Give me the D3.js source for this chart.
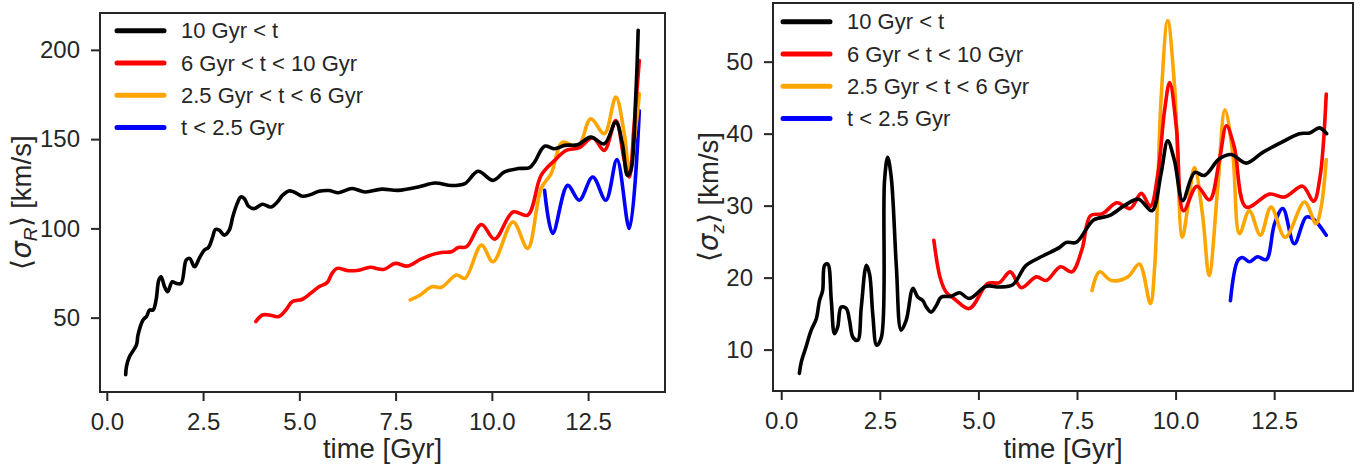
<!DOCTYPE html>
<html>
<head>
<meta charset="utf-8">
<script src="https://cdn.jsdelivr.net/npm/d3@7"></script>
<style>
  body { margin: 0; background: #fff; }
  text { font-family: "Liberation Sans", Arial, sans-serif; fill: #262626; }
</style>
</head>
<body>
<div id="chart"></div>
<script>
// legend / series labels
var seriesLabels = ["10 Gyr < t", "6 Gyr < t < 10 Gyr", "2.5 Gyr < t < 6 Gyr", "t < 2.5 Gyr"];
var seriesColors = ["#000000", "#ff0000", "#ffa500", "#0000ff"];

var xTicks = [0, 2.5, 5, 7.5, 10, 12.5];
var yTicksR = [50, 100, 150, 200];
var yTicksZ = [10, 20, 30, 40, 50];

// <sigma_R> vs time, [time Gyr, km/s]
var sigmaR_old = [[0.49,18],[0.51,22.6],[0.59,28.2],[0.77,34.7],[0.81,40.3],[0.94,48.7],[1.03,50.6],[1.11,54.3],[1.20,54.3],[1.28,59.9],[1.35,71],[1.41,72.9],[1.50,67.3],[1.58,64.5],[1.70,70.1],[1.80,69.2],[1.93,69.2],[2.06,82.2],[2.15,83.2],[2.28,78.5],[2.40,83.2],[2.53,87.8],[2.64,89.3],[2.75,95.3],[2.82,99.4],[2.92,99],[3.05,96.2],[3.18,99],[3.27,106.4],[3.37,113],[3.48,117.6],[3.57,116.7],[3.68,112.4],[3.83,111.1],[4.04,113.5],[4.26,112],[4.43,114.8],[4.56,118.5],[4.73,121],[4.86,120.4],[5.08,118],[5.29,118.9],[5.51,120.8],[5.77,121.2],[6.02,120],[6.37,122.3],[6.71,120.4],[7.14,122],[7.57,121.3],[8.09,123.2],[8.52,125.4],[8.95,124],[9.30,125.1],[9.64,132],[10.03,126.9],[10.33,131.6],[10.68,133.5],[10.98,134],[11.11,137.2],[11.37,146],[11.63,144.6],[11.89,146.5],[12.23,146.9],[12.57,151.1],[12.92,147.4],[13.22,159.5],[13.39,147.4],[13.52,129.7],[13.61,132.5],[13.74,175.4],[13.80,211]];
var sigmaR_mid = [[3.87,47.8],[4.04,51.5],[4.21,51.5],[4.47,50.6],[4.65,54.3],[4.82,59],[5.08,60.3],[5.29,63.6],[5.51,67.3],[5.72,69.6],[5.85,74.8],[5.98,77.6],[6.28,76.3],[6.54,76.6],[6.84,78.2],[7.19,77],[7.49,80.4],[7.81,78.9],[8.14,82.6],[8.45,85.3],[8.69,86.5],[8.95,86.9],[9.13,89.3],[9.34,89.7],[9.73,102.2],[10.07,94],[10.55,109.2],[10.93,107.4],[11.28,129.7],[11.63,138.1],[11.93,143.7],[12.27,145.2],[12.62,150.8],[12.92,143.7],[13.22,160.4],[13.44,138.1],[13.57,128.8],[13.69,156.7],[13.83,194]];
var sigmaR_young = [[7.88,59.9],[8.14,62.7],[8.44,67.3],[8.69,67],[9.08,73.9],[9.30,72],[9.73,90.6],[10.03,81.3],[10.55,103.6],[10.93,88.8],[11.28,122.3],[11.54,130.7],[11.84,148.3],[12.23,145.5],[12.57,161.4],[12.92,153],[13.22,173.5],[13.44,153],[13.57,132.5],[13.74,156.7],[13.83,175.4]];
var sigmaR_new = [[11.37,121.3],[11.58,97.2],[11.97,124.1],[12.27,115.8],[12.62,128.8],[12.96,115.8],[13.25,138.5],[13.57,99.9],[13.83,165.8]];

// <sigma_z> vs time
var sigmaZ_old = [[0.46,6.7],[0.51,8.3],[0.63,10.4],[0.76,12.7],[0.89,14.3],[0.97,16.8],[1.05,18.2],[1.10,21.7],[1.18,21.9],[1.27,16.8],[1.35,12.2],[1.43,13.1],[1.52,15.9],[1.65,15.7],[1.73,14.1],[1.82,11.7],[1.94,11.3],[2.03,15.9],[2.16,21.7],[2.24,20.5],[2.32,15],[2.42,10.6],[2.54,11.7],[2.62,33.5],[2.70,36.7],[2.79,33.9],[2.92,21.5],[3.04,12.7],[3.17,14.1],[3.34,18.5],[3.46,17.3],[3.59,16.8],[3.68,15.9],[3.80,15.2],[3.93,16.1],[4.06,17.3],[4.31,17.4],[4.52,17.9],[4.77,17.1],[5.20,18.8],[5.53,18.7],[5.87,19.0],[6.21,21.7],[6.63,23.0],[7.06,24.2],[7.23,24.9],[7.48,24.9],[7.92,28.0],[8.32,28.6],[8.70,30],[9.06,30.9],[9.40,29.3],[9.63,34.4],[9.80,39],[9.97,36.3],[10.18,30.7],[10.48,34.6],[10.73,34.2],[11.11,36.5],[11.41,37.1],[11.79,35.9],[12.21,37.4],[12.72,38.9],[13.14,40],[13.40,40.1],[13.65,40.8],[13.83,40]];
var sigmaZ_mid = [[3.87,25.2],[4.03,20],[4.18,18],[4.40,17],[4.77,15.7],[5.24,19.2],[5.53,19.3],[5.81,20.8],[6.09,18.6],[6.47,20.1],[6.72,19.6],[7.08,21.5],[7.37,20.8],[7.63,24],[7.84,28.6],[8.15,28.9],[8.51,30.4],[8.85,29.6],[9.13,31.7],[9.36,29.9],[9.55,34.4],[9.72,43.2],[9.85,47.1],[10.02,40.9],[10.20,29.3],[10.54,32.7],[10.86,30.8],[11.11,36.3],[11.29,41.1],[11.49,38.1],[11.79,29.8],[12.38,31.6],[12.76,31.2],[13.22,32.7],[13.50,30.6],[13.66,33.9],[13.82,45.5]];
var sigmaZ_young = [[7.88,18.2],[8.07,20.8],[8.37,19.6],[8.79,20.1],[9.08,21.9],[9.36,16.4],[9.47,21.5],[9.63,44.6],[9.80,55.7],[9.97,46.9],[10.17,25.6],[10.31,29.8],[10.48,35.3],[10.69,28.4],[10.85,20.3],[11.07,32.6],[11.25,43.3],[11.45,37.2],[11.62,26.1],[11.87,29.3],[12.15,25.9],[12.42,29.8],[12.78,25.6],[13.27,30.5],[13.56,27.5],[13.69,29.8],[13.82,36.4]];
var sigmaZ_new = [[11.39,16.8],[11.58,22.4],[11.70,22.8],[11.87,22.2],[12.08,22.9],[12.30,22.5],[12.51,27.5],[12.72,29.6],[13.01,24.7],[13.31,28.4],[13.48,28.2],[13.82,25.9]];

var width = 1371;
var height = 467;

var svg = d3.select("#chart")
    .append("svg")
    .attr("width", width)
    .attr("height", height);

// pad an extent by 5% like matplotlib does
function padded(ext) {
    var m = (ext[1] - ext[0]) * 0.05;
    return [ext[0] - m, ext[1] + m];
}

function drawPanel(p) {
    var all = d3.merge(p.series);
    var x = d3.scaleLinear()
        .domain(padded(d3.extent(all, function (d) { return d[0]; })))
        .range([p.left, p.right]);
    var y = d3.scaleLinear()
        .domain(padded(d3.extent(all, function (d) { return d[1]; })))
        .range([p.bottom, p.top]);

    var g = svg.append("g");

    // x axis
    var xa = g.append("g")
        .attr("transform", "translate(0," + p.bottom + ")")
        .call(d3.axisBottom(x).tickValues(xTicks).tickFormat(d3.format(".1f"))
            .tickSize(9).tickSizeOuter(0).tickPadding(12));
    // y axis
    var ya = g.append("g")
        .attr("transform", "translate(" + p.left + ",0)")
        .call(d3.axisLeft(y).tickValues(p.yTicks).tickFormat(d3.format("d"))
            .tickSize(9).tickSizeOuter(0).tickPadding(11));

    [xa, ya].forEach(function (a) {
        a.select(".domain").remove();
        a.selectAll(".tick line").attr("stroke", "#262626").attr("stroke-width", 2);
        a.selectAll(".tick text")
            .attr("fill", "#262626")
            .style("font-size", "24px")
            .style("font-family", "'Liberation Sans', Arial, sans-serif");
    });

    // lines
    var line = d3.line()
        .x(function (d) { return x(d[0]); })
        .y(function (d) { return y(d[1]); })
        .curve(d3.curveCatmullRom.alpha(0.5));

    // draw youngest first so the old population sits on top
    for (var i = p.series.length - 1; i >= 0; i--) {
        g.append("path")
            .datum(p.series[i])
            .attr("d", line)
            .attr("fill", "none")
            .attr("stroke", seriesColors[i])
            .attr("stroke-width", 3.6)
            .attr("stroke-linejoin", "round")
            .attr("stroke-linecap", "round");
    }

    // frame
    g.append("rect")
        .attr("x", p.left)
        .attr("y", p.top)
        .attr("width", p.right - p.left)
        .attr("height", p.bottom - p.top)
        .attr("fill", "none")
        .attr("stroke", "#262626")
        .attr("stroke-width", 2);

    // legend
    seriesLabels.forEach(function (lab, i) {
        var ly = p.legY + i * 32.3;
        g.append("line")
            .attr("x1", p.legX)
            .attr("x2", p.legX + 47)
            .attr("y1", ly)
            .attr("y2", ly)
            .attr("stroke", seriesColors[i])
            .attr("stroke-width", 5)
            .attr("stroke-linecap", "round");
        g.append("text")
            .attr("x", p.legX + 64)
            .attr("y", ly)
            .attr("dy", "0.35em")
            .style("font-size", "22px")
            .text(lab);
    });

    // x label
    g.append("text")
        .attr("x", (p.left + p.right) / 2)
        .attr("y", 458)
        .attr("text-anchor", "middle")
        .style("font-size", "27.5px")
        .text("time [Gyr]");

    // y label
    var yl = g.append("text")
        .attr("transform", "translate(" + p.yLabX + "," + ((p.top + p.bottom) / 2) + ") rotate(-90)")
        .attr("text-anchor", "middle")
        .style("font-size", "27.5px");
    yl.append("tspan").text("\u27E8");
    yl.append("tspan").style("font-style", "italic").style("font-family", "'DejaVu Sans'").text("\u03C3");
    yl.append("tspan").style("font-style", "italic").style("font-size", "19px").attr("dy", 6).text(p.sub);
    yl.append("tspan").attr("dy", -6).text("\u27E9 [km/s]");
}

drawPanel({
    left: 100, right: 665, top: 13, bottom: 392,
    series: [sigmaR_old, sigmaR_mid, sigmaR_young, sigmaR_new],
    yTicks: yTicksR, sub: "R", yLabX: 31,
    legX: 117, legY: 30.7
});

drawPanel({
    left: 773, right: 1353, top: 3, bottom: 391,
    series: [sigmaZ_old, sigmaZ_mid, sigmaZ_young, sigmaZ_new],
    yTicks: yTicksZ, sub: "z", yLabX: 718,
    legX: 783, legY: 21.7
});
</script>
</body>
</html>
